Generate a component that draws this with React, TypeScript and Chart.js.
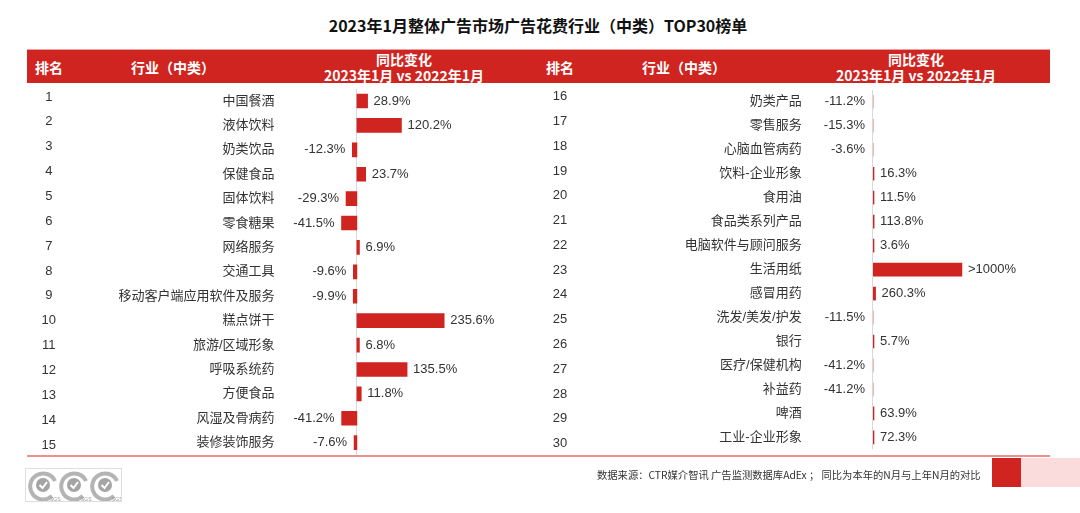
import React, { useEffect, useRef } from "react";
import { Chart, registerables } from "chart.js";

Chart.register(...registerables);

const TITLE = "2023年1月整体广告市场广告花费行业（中类）TOP30榜单";
const HEADER_RANK = "排名";
const HEADER_INDUSTRY = "行业（中类）";
const HEADER_CHANGE_1 = "同比变化";
const HEADER_CHANGE_2 = "2023年1月 vs 2022年1月";
const FOOTNOTE = "数据来源：CTR媒介智讯 广告监测数据库AdEx ； 同比为本年的N月与上年N月的对比";

const ranksLeft = [1, 2, 3, 4, 5, 6, 7, 8, 9, 10, 11, 12, 13, 14, 15];
const industriesLeft = [
  "中国餐酒", "液体饮料", "奶类饮品", "保健食品", "固体饮料", "零食糖果", "网络服务", "交通工具",
  "移动客户端应用软件及服务", "糕点饼干", "旅游/区域形象", "呼吸系统药", "方便食品", "风湿及骨病药", "装修装饰服务",
];
const changeLeft = [28.9, 120.2, -12.3, 23.7, -29.3, -41.5, 6.9, -9.6, -9.9, 235.6, 6.8, 135.5, 11.8, -41.2, -7.6];
const valueLabelsLeft = [
  "28.9%", "120.2%", "-12.3%", "23.7%", "-29.3%", "-41.5%", "6.9%", "-9.6%", "-9.9%", "235.6%", "6.8%", "135.5%", "11.8%", "-41.2%", "-7.6%",
];

const ranksRight = [16, 17, 18, 19, 20, 21, 22, 23, 24, 25, 26, 27, 28, 29, 30];
const industriesRight = [
  "奶类产品", "零售服务", "心脑血管病药", "饮料-企业形象", "食用油", "食品类系列产品", "电脑软件与顾问服务", "生活用纸",
  "感冒用药", "洗发/美发/护发", "银行", "医疗/保健机构", "补益药", "啤酒", "工业-企业形象",
];
const changeRight = [-11.2, -15.3, -3.6, 16.3, 11.5, 113.8, 3.6, 9000, 260.3, -11.5, 5.7, -41.2, -41.2, 63.9, 72.3];
const valueLabelsRight = [
  "-11.2%", "-15.3%", "-3.6%", "16.3%", "11.5%", "113.8%", "3.6%", ">1000%", "260.3%", "-11.5%", "5.7%", "-41.2%", "-41.2%", "63.9%", "72.3%",
];

const RED = "#D02420";
const TEXT = "#333333";
const LATIN = "'Liberation Sans', 'Noto Sans CJK SC', sans-serif";
const CJK = "'Noto Sans CJK SC', 'Liberation Sans', sans-serif";

const decorPlugin = {
  id: "decor",
  beforeDatasetsDraw(chart: any) {
    const { ctx, chartArea } = chart;
    const zero = chart.scales.x.getPixelForValue(0);
    ctx.save();
    ctx.strokeStyle = "#d9d9d9";
    ctx.lineWidth = 1;
    ctx.beginPath();
    const x = Math.round(zero) - 0.5;
    ctx.moveTo(x, chartArea.top);
    ctx.lineTo(x, chartArea.bottom);
    ctx.stroke();
    ctx.restore();
  },
  afterDatasetsDraw(chart: any, _args: any, opts: any) {
    const { ctx } = chart;
    const meta = chart.getDatasetMeta(0);
    const values = chart.data.datasets[0].data as number[];
    const labels: string[] = opts.labels || [];
    ctx.save();
    ctx.font = `13px ${LATIN}`;
    ctx.fillStyle = TEXT;
    ctx.textBaseline = "middle";
    meta.data.forEach((bar: any, i: number) => {
      const v = values[i];
      if (v >= 0) {
        ctx.textAlign = "left";
        ctx.fillText(labels[i], bar.x + 6, bar.y);
      } else {
        ctx.textAlign = "right";
        ctx.fillText(labels[i], bar.x - 7, bar.y);
      }
    });
    ctx.restore();
  },
};

type Cfg = {
  left: number;
  ranks: number[];
  industries: string[];
  values: number[];
  valueLabels: string[];
  xMin: number;
  xMax: number;
  rankMin: number;
  rankMax: number;
  rankW: number;
  rankPad: number;
  industryW: number;
  industryPad: number;
  padTop: number;
  padBottom: number;
  padRight: number;
  barThickness: number;
  clipLeft: boolean;
  minBarLength: number;
};

function RankedBars(p: Cfg) {
  const ref = useRef<HTMLCanvasElement>(null);
  useEffect(() => {
    if (!ref.current) return;
    const chart = new Chart(ref.current, {
      type: "bar",
      data: {
        labels: p.industries,
        datasets: [
          {
            data: p.values,
            backgroundColor: RED,
            borderWidth: 0,
            barThickness: p.barThickness,
            minBarLength: p.minBarLength,
            clip: p.clipLeft ? ({ left: 0, right: false, top: false, bottom: false } as any) : undefined,
          } as any,
        ],
      },
      options: {
        animation: false,
        responsive: false,
        maintainAspectRatio: false,
        indexAxis: "y",
        events: [],
        layout: { padding: { left: 0, right: p.padRight, top: p.padTop, bottom: p.padBottom } },
        plugins: {
          legend: { display: false },
          tooltip: { enabled: false },
          decor: { labels: p.valueLabels },
        } as any,
        scales: {
          x: { type: "linear", display: false, min: p.xMin, max: p.xMax },
          y: {
            type: "category",
            position: "left",
            weight: 1,
            grid: { display: false, drawTicks: true, tickLength: p.industryPad },
            border: { display: false },
            ticks: {
              autoSkip: false,
              padding: 0,
              color: TEXT,
              font: { family: LATIN, size: 13 },
            },
            afterFit: (s: any) => {
              s.width = p.industryW;
              s.paddingTop = 0;
              s.paddingBottom = 0;
            },
          },
          yr: {
            type: "linear",
            axis: "y",
            position: "left",
            weight: 2,
            reverse: true,
            offset: false,
            beginAtZero: false,
            bounds: "data",
            min: p.rankMin,
            max: p.rankMax,
            grid: { display: false, offset: false, drawTicks: true, tickLength: p.rankPad },
            border: { display: false },
            ticks: {
              autoSkip: false,
              padding: 0,
              crossAlign: "center",
              color: TEXT,
              font: { family: LATIN, size: 13 },
              callback: (v: any) => String(v),
            },
            afterBuildTicks: (s: any) => {
              s.ticks = p.ranks.map((r) => ({ value: r }));
            },
            afterFit: (s: any) => {
              s.width = p.rankW;
              s.paddingTop = 0;
              s.paddingBottom = 0;
            },
          } as any,
        },
      },
      plugins: [decorPlugin as any],
    });
    return () => chart.destroy();
  }, []);
  return (
    <canvas
      ref={ref}
      width={540}
      height={390}
      style={{ position: "absolute", left: p.left, top: 80, width: 540, height: 390 }}
    />
  );
}

function SgsLogo() {
  const icon = (cx: number) => (
    <g key={cx}>
      <path
        d={`M ${cx + 9} ${27} A 13 13 0 1 1 ${cx + 12} ${12}`}
        fill="none"
        stroke="#b4b4b4"
        strokeWidth={4}
      />
      <circle cx={cx} cy={16} r={7} fill="#a4a4a4" />
      <path d={`M ${cx - 3.5} ${16} L ${cx - 0.5} ${19} L ${cx + 4} ${13}`} fill="none" stroke="#fff" strokeWidth={2} />
      <text x={cx + 7} y={32} fontSize={5} fill="#999" fontFamily={LATIN}>SGS</text>
    </g>
  );
  return (
    <svg
      width={97}
      height={34}
      style={{ position: "absolute", left: 25, top: 468, border: "1px solid #dedede", boxSizing: "border-box" }}
    >
      {[17, 48, 79].map((c) => icon(c))}
    </svg>
  );
}

function HeaderCells({ rankX, indX, changeCX }: { rankX: number; indX: number; changeCX: number }) {
  const base: React.CSSProperties = {
    position: "absolute",
    color: "#fff",
    fontFamily: CJK,
    fontWeight: 700,
    fontSize: 14,
    lineHeight: "16px",
    height: 16,
    whiteSpace: "nowrap",
  };
  return (
    <>
      <div style={{ ...base, left: rankX, top: 59 }}>{HEADER_RANK}</div>
      <div style={{ ...base, left: indX, top: 59 }}>{HEADER_INDUSTRY}</div>
      <div style={{ ...base, left: changeCX - 100, width: 200, textAlign: "center", top: 51 }}>{HEADER_CHANGE_1}</div>
      <div style={{ ...base, left: changeCX - 100, width: 200, textAlign: "center", top: 67 }}>{HEADER_CHANGE_2}</div>
    </>
  );
}

export default function App() {
  return (
    <div
      style={{
        position: "absolute",
        left: 0,
        top: 0,
        width: 1080,
        height: 513,
        overflow: "hidden",
        background: "#fff",
      }}
    >
      <div
        style={{
          position: "absolute",
          left: 0,
          top: 15,
          width: 1076,
          height: 20,
          lineHeight: "20px",
          textAlign: "center",
          fontFamily: CJK,
          fontWeight: 700,
          fontSize: 16,
          color: "#111",
          whiteSpace: "nowrap",
        }}
      >
        {TITLE}
      </div>
      <div
        style={{
          position: "absolute",
          left: 27,
          top: 49,
          width: 1023,
          height: 34,
          background: RED,
          borderTop: "1px solid #eaa09d",
          boxSizing: "border-box",
        }}
      />
      <HeaderCells rankX={35} indX={131} changeCX={404} />
      <HeaderCells rankX={546} indX={642} changeCX={916} />

      <RankedBars
        left={0}
        ranks={ranksLeft}
        industries={industriesLeft}
        values={changeLeft}
        valueLabels={valueLabelsLeft}
        xMin={-60}
        xMax={300}
        rankMin={0.67}
        rankMax={15.397}
        rankW={70}
        rankPad={13.97}
        industryW={264.67}
        industryPad={60.17}
        padTop={8.8}
        padBottom={15.1}
        padRight={71.95}
        barThickness={14}
        clipLeft={false}
        minBarLength={0}
      />
      <RankedBars
        left={540}
        ranks={ranksRight}
        industries={industriesRight}
        values={changeRight}
        valueLabels={valueLabelsRight}
        xMin={0}
        xMax={10000}
        rankMin={15.72}
        rankMax={30.24}
        rankW={40}
        rankPad={12.77}
        industryW={293}
        industryPad={71.3}
        padTop={9.8}
        padBottom={20.6}
        padRight={108.2}
        barThickness={13}
        clipLeft={true}
        minBarLength={1}
      />

      <div style={{ position: "absolute", left: 27, top: 455, width: 1023, height: 2, background: "#ee8f8d" }} />
      <SgsLogo />
      <div
        style={{
          position: "absolute",
          left: 597,
          top: 468,
          height: 14,
          lineHeight: "14px",
          fontFamily: CJK,
          fontSize: 10.3,
          color: TEXT,
          whiteSpace: "nowrap",
        }}
      >
        {FOOTNOTE}
      </div>
      <div style={{ position: "absolute", left: 992, top: 458, width: 29, height: 29, background: RED }} />
      <div style={{ position: "absolute", left: 1021, top: 458, width: 59, height: 29, background: "#fadcdc" }} />
    </div>
  );
}
